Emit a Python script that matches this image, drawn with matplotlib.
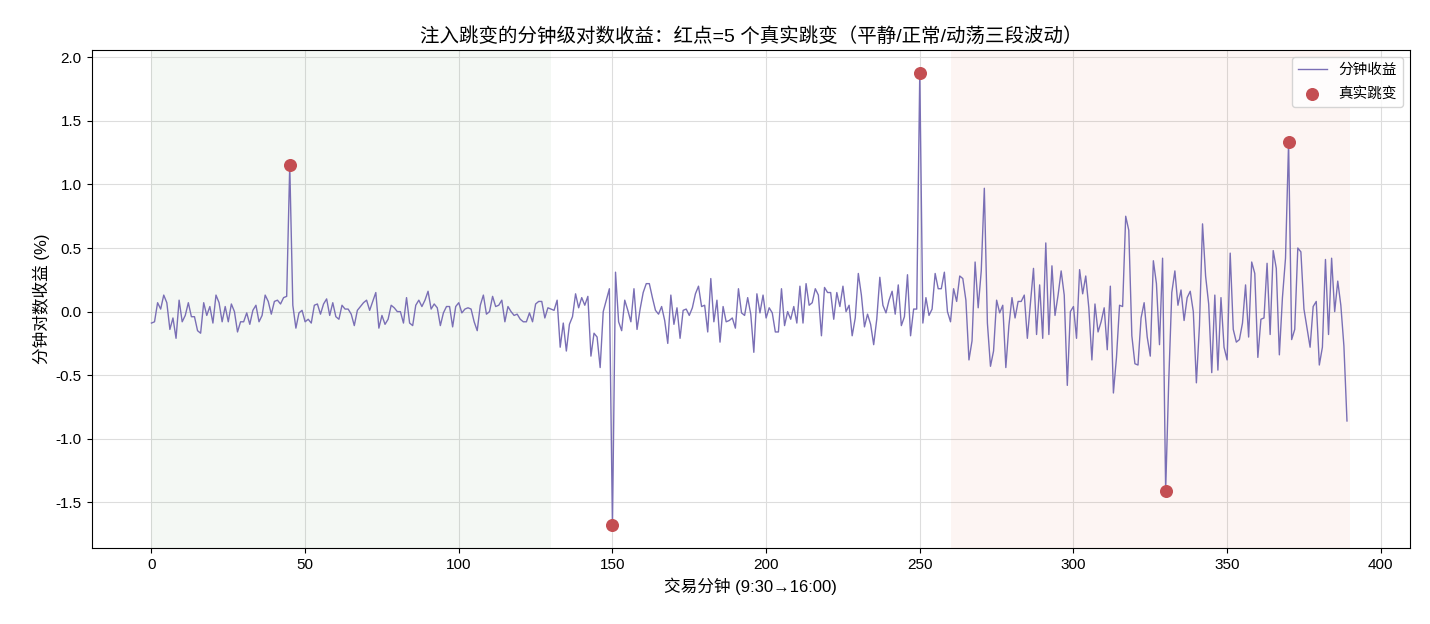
import numpy as np
import matplotlib.pyplot as plt

plt.rcParams['font.family'] = ['Liberation Sans', 'Noto Sans CJK SC', 'DejaVu Sans']
plt.rcParams['axes.unicode_minus'] = False

# 分钟对数收益 (%), 0..389 分钟
returns = [
    # 0-66
    -0.09, -0.08, 0.07, 0.02, 0.13, 0.07, -0.14, -0.05, -0.21, 0.09,
    -0.08, -0.03, 0.07, -0.04, -0.04, -0.15, -0.17, 0.07, -0.03, 0.04,
    -0.09, 0.13, 0.07, -0.08, 0.04, -0.08, 0.06, 0.00, -0.16, -0.08,
    -0.08, -0.01, -0.10, 0.01, 0.05, -0.08, -0.03, 0.13, 0.08, -0.02,
    0.08, 0.09, 0.06, 0.11, 0.12, 1.15, 0.05, -0.13, -0.01, 0.01,
    -0.08, -0.06, -0.09, 0.05, 0.06, -0.02, 0.06, 0.10, -0.03, 0.07,
    -0.04, -0.06, 0.05, 0.02, 0.02, -0.02, -0.11,
    # 67-133
    0.01, 0.04, 0.07, 0.09, 0.01, 0.08, 0.15, -0.13, -0.03, -0.10,
    -0.06, 0.05, 0.03, 0.00, 0.00, -0.09, 0.11, -0.09, -0.11, 0.05,
    0.09, 0.04, 0.09, 0.16, 0.02, 0.06, 0.03, -0.11, -0.01, 0.04,
    0.04, -0.12, 0.04, 0.07, -0.01, 0.02, 0.03, 0.02, -0.08, -0.15,
    0.05, 0.13, -0.02, 0.00, 0.12, 0.04, 0.05, 0.09, -0.08, 0.04,
    0.00, -0.03, -0.02, -0.06, -0.08, -0.08, -0.01, -0.08, 0.06, 0.08,
    0.08, -0.05, 0.03, 0.02, 0.01, 0.09, -0.28,
    # 134-196
    -0.09, -0.31, -0.10, -0.04, 0.14, 0.03, 0.11, 0.05, 0.12, -0.35,
    -0.17, -0.20, -0.44, 0.00, 0.09, 0.18, -1.68, 0.31, -0.08, -0.15,
    0.09, 0.01, -0.08, 0.18, -0.14, 0.02, 0.15, 0.22, 0.22, 0.11,
    0.01, -0.02, 0.04, -0.07, -0.25, 0.13, -0.10, 0.03, -0.21, 0.01,
    0.02, -0.03, 0.03, 0.14, 0.20, 0.04, 0.05, -0.16, 0.26, -0.08,
    0.09, -0.24, 0.04, -0.08, -0.07, -0.05, -0.13, 0.18, -0.01, -0.03,
    0.11, -0.02, -0.32,
    # 197-261
    0.14, -0.01, 0.13, -0.05, 0.03, -0.01, -0.16, -0.16, 0.18, -0.11,
    0.00, -0.06, 0.04, -0.09, 0.20, -0.09, 0.22, 0.05, 0.07, 0.18,
    0.13, -0.19, 0.19, 0.15, 0.15, -0.06, 0.15, 0.04, 0.20, 0.00,
    0.05, -0.19, -0.05, 0.30, 0.13, -0.12, -0.02, -0.10, -0.26, -0.06,
    0.27, 0.05, -0.01, 0.09, 0.16, -0.02, 0.21, -0.11, -0.04, 0.29,
    -0.19, 0.02, 0.02, 1.88, -0.09, 0.11, -0.03, 0.02, 0.30, 0.18,
    0.18, 0.31, 0.00, -0.08, 0.18,
    # 262-326
    0.08, 0.28, 0.26, 0.09, -0.38, -0.23, 0.39, 0.03, 0.32, 0.97,
    -0.09, -0.43, -0.31, 0.09, -0.01, 0.05, -0.44, -0.11, 0.11, -0.05,
    0.08, 0.08, 0.13, -0.21, 0.07, 0.34, -0.18, 0.21, -0.21, 0.54,
    -0.18, 0.36, -0.03, 0.13, 0.32, 0.13, -0.58, 0.00, 0.04, -0.21,
    0.33, 0.14, 0.28, 0.03, -0.38, 0.06, -0.16, -0.08, 0.03, -0.30,
    0.20, -0.64, -0.36, 0.05, 0.04, 0.75, 0.64, -0.19, -0.41, -0.42,
    -0.05, 0.07, -0.20, -0.35, 0.40,
    # 327-389
    0.22, -0.26, 0.42, -1.41, -0.55, 0.15, 0.32, 0.05, 0.17, -0.07,
    0.11, 0.16, 0.00, -0.56, -0.11, 0.69, 0.28, 0.06, -0.48, 0.13,
    -0.46, 0.11, -0.28, -0.38, 0.46, -0.14, -0.24, -0.22, -0.09, 0.21,
    -0.20, 0.39, 0.30, -0.36, -0.06, -0.05, 0.38, -0.18, 0.48, 0.34,
    -0.34, 0.11, 0.42, 1.33, -0.22, -0.14, 0.50, 0.47, 0.02, -0.13,
    -0.28, 0.04, 0.08, -0.42, -0.28, 0.41, -0.18, 0.42, 0.00, 0.24,
    0.05, -0.27, -0.86,
]

jump_minutes = [45, 150, 250, 330, 370]

# 三段波动区间
calm_span = (0, 130)
wild_span = (260, 390)

returns = np.array(returns)
minutes = np.arange(len(returns))

fig, ax = plt.subplots(figsize=(14.3, 6.24), dpi=100)

ax.axvspan(*calm_span, color='#2e7d32', alpha=0.05, lw=0)
ax.axvspan(*wild_span, color='#d84315', alpha=0.05, lw=0)

ax.plot(minutes, returns, color='#7a6fb5', lw=1.0, label='分钟收益')
ax.scatter(jump_minutes, returns[jump_minutes], s=70, color='#c44e52',
           zorder=5, label='真实跳变')

ax.set_title('注入跳变的分钟级对数收益：红点=5 个真实跳变（平静/正常/动荡三段波动）', fontsize=14)
ax.set_xlabel('交易分钟 (9:30→16:00)', fontsize=12)
ax.set_ylabel('分钟对数收益 (%)', fontsize=12)
ax.tick_params(labelsize=11)
ax.grid(True, color='#dddddd', lw=0.8)
ax.set_axisbelow(True)
ax.legend(loc='upper right', fontsize=10.5, labelspacing=0.7)

fig.subplots_adjust(left=0.064, right=0.986, top=0.92, bottom=0.122)
fig.savefig('out.png', dpi=100)
